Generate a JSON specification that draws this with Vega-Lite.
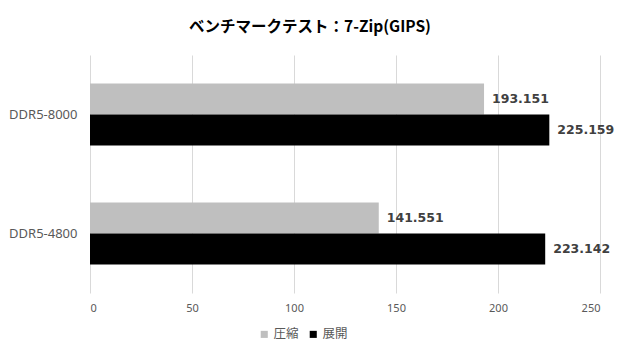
{
  "$schema": "https://vega.github.io/schema/vega-lite/v6.json",
  "width": 510,
  "height": 238,
  "autosize": {"type": "none"},
  "padding": {"left": 90, "top": 55, "right": 20, "bottom": 57},
  "background": "white",
  "title": {
    "text": "ベンチマークテスト：7-Zip(GIPS)",
    "anchor": "middle",
    "dx": -35,
    "offset": 20,
    "font": "Noto Sans CJK JP",
    "fontSize": 15.5,
    "fontWeight": "bold",
    "color": "#000000"
  },
  "config": {
    "view": {"stroke": null},
    "font": "Noto Sans CJK JP"
  },
  "data": {
    "values": [
      {"mem": "DDR5-8000", "type": "圧縮", "value": 193.151},
      {"mem": "DDR5-8000", "type": "展開", "value": 225.159},
      {"mem": "DDR5-4800", "type": "圧縮", "value": 141.551},
      {"mem": "DDR5-4800", "type": "展開", "value": 223.142}
    ]
  },
  "encoding": {
    "y": {
      "field": "mem",
      "type": "nominal",
      "sort": ["DDR5-8000", "DDR5-4800"],
      "scale": {"paddingInner": 0.48, "paddingOuter": 0.24},
      "axis": {
        "title": null,
        "domain": false,
        "ticks": false,
        "labelFontSize": 13,
        "labelColor": "#595959",
        "labelPadding": 13,
        "labelFont": "Noto Sans"
      }
    },
    "yOffset": {"field": "type", "type": "nominal", "sort": ["圧縮", "展開"]},
    "x": {
      "field": "value",
      "type": "quantitative",
      "scale": {"domain": [0, 250]},
      "axis": {
        "title": null,
        "values": [0, 50, 100, 150, 200, 250],
        "domain": false,
        "ticks": false,
        "gridColor": "#d9d9d9",
        "labelFontSize": 11,
        "labelColor": "#595959",
        "labelPadding": 9,
        "labelFont": "Noto Sans"
      }
    }
  },
  "layer": [
    {
      "mark": {"type": "bar"},
      "encoding": {
        "color": {
          "field": "type",
          "type": "nominal",
          "scale": {"domain": ["圧縮", "展開"], "range": ["#bfbfbf", "#000000"]},
          "legend": {
            "title": null,
            "orient": "none",
            "direction": "horizontal",
            "legendX": 168,
            "legendY": 273,
            "symbolType": "square",
            "symbolSize": 50,
            "labelFontSize": 12.5,
            "labelColor": "#595959",
            "labelOffset": 3,
            "columnPadding": 8
          }
        }
      }
    },
    {
      "mark": {
        "type": "text",
        "align": "left",
        "baseline": "middle",
        "dx": 8,
        "font": "DejaVu Sans",
        "fontSize": 12.5,
        "fontWeight": "bold",
        "color": "#404040"
      },
      "encoding": {
        "text": {"field": "value", "type": "quantitative", "format": ".3f"}
      }
    }
  ]
}
